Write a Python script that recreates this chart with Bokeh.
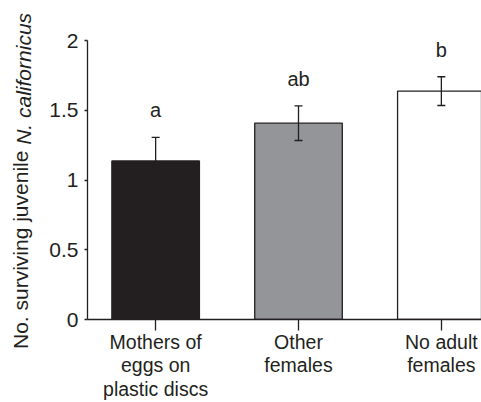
import math
from bokeh.plotting import figure
from bokeh.models import ColumnDataSource, Range1d, FixedTicker, Whisker, TeeHead, Label
from bokeh.core.properties import value
from bokeh.embed import file_html
from bokeh.resources import INLINE

# ---- data ----
categories = ["Mothers of\neggs on\nplastic discs", "Other\nfemales", "No adult\nfemales"]
means = [1.137, 1.407, 1.637]
errors = [0.168, 0.124, 0.103]
letters = ["a", "ab", "b"]
bar_colors = ["#231f20", "#939598", "#ffffff"]
y_ticks = [0, 0.5, 1, 1.5, 2]
y_tick_labels = ["0", "0.5", "1", "1.5", "2"]
y_label_plain = "No. surviving juvenile"
y_label_italic = "N. californicus"

# ---- styling ----
FONT = "Liberation Sans"
INK = "#231f20"
LW = 1.3
W, H = 481, 402
BL, BT, BB, BR = 81, 40, 81, 0

xs = list(range(len(categories)))
upper = [m + e for m, e in zip(means, errors)]
lower = [m - e for m, e in zip(means, errors)]

src = ColumnDataSource(dict(x=xs, top=means, color=bar_colors, upper=upper,
                            lower=lower, letter=letters))

p = figure(width=W, height=H, x_range=Range1d(-0.477, 2.281), y_range=Range1d(0, 2),
           output_backend="svg", toolbar_location=None,
           min_border_left=BL, min_border_right=BR, min_border_top=BT, min_border_bottom=BB)
p.outline_line_color = None
p.xgrid.grid_line_color = None
p.ygrid.grid_line_color = None
p.background_fill_color = "white"
p.border_fill_color = "white"

p.vbar(x="x", top="top", bottom=0, width=0.613, fill_color="color", line_color=INK,
       line_width=LW, source=src)

wh = Whisker(base="x", upper="upper", lower="lower", source=src, line_color=INK, line_width=LW,
             upper_head=TeeHead(size=8, line_color=INK, line_width=LW),
             lower_head=TeeHead(size=8, line_color=INK, line_width=LW))
wh.level = "overlay"
p.add_layout(wh)

p.text(x="x", y="upper", text="letter", source=src, text_align="center",
       text_baseline="alphabetic", y_offset=-27, text_font=value(FONT),
       text_font_size="20px", text_color=INK)

# axes
for ax in (p.xaxis[0], p.yaxis[0]):
    ax.axis_line_color = INK
    ax.axis_line_width = LW
    ax.major_tick_line_color = INK
    ax.major_tick_line_width = LW
    ax.minor_tick_line_color = None
    ax.major_tick_in = 0
    ax.major_label_text_font = FONT
    ax.major_label_text_color = INK

p.xaxis.ticker = FixedTicker(ticks=xs)
p.xaxis.major_label_overrides = {x: c for x, c in zip(xs, categories)}
p.xaxis.major_tick_out = 11
p.xaxis.major_label_standoff = 0
p.xaxis.major_label_text_font_size = "19.5px"
p.xaxis.major_label_text_line_height = 1.07

p.yaxis.ticker = FixedTicker(ticks=y_ticks)
p.yaxis.major_label_overrides = {t: l for t, l in zip(y_ticks, y_tick_labels)}
p.yaxis.major_tick_out = 3
p.yaxis.major_label_standoff = 6
p.yaxis.major_label_text_font_size = "21px"

# y axis title (plain + italic part), two labels in the left border
fs = 21
frame_h = H - BT - BB
px_per_unit = frame_h / (p.y_range.end - p.y_range.start)
mid = (p.y_range.start + p.y_range.end) / 2
split_y = mid + 1.41 * fs / px_per_unit
gap_y = 0.278 * fs / px_per_unit
lab1 = Label(x=-3, x_units="screen", y=split_y, text=y_label_plain, angle=math.pi / 2,
             text_align="right", text_baseline="middle", text_font=FONT,
             text_font_size=f"{fs}px", text_color=INK, text_line_height=1.0)
lab2 = Label(x=23, x_units="screen", y=split_y + gap_y, text=y_label_italic,
             angle=math.pi / 2, text_align="left", text_baseline="middle",
             text_font=FONT, text_font_style="italic",
             text_font_size=f"{fs}px", text_color=INK, text_line_height=1.0)
p.add_layout(lab1, "left")
p.add_layout(lab2, "left")

open("out.html", "w").write(file_html(p, INLINE))
